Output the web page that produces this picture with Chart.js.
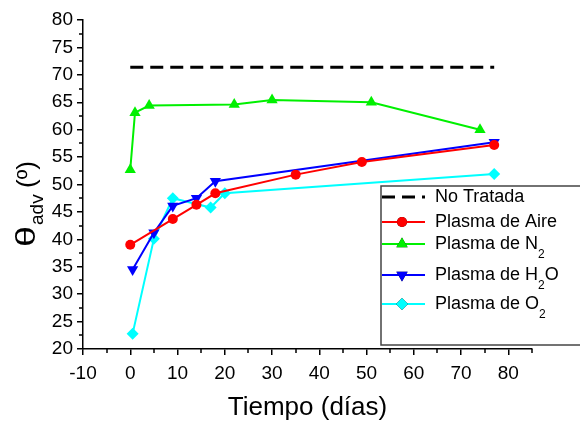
<!DOCTYPE html>
<html>
<head>
<meta charset="utf-8">
<script src="https://cdn.jsdelivr.net/npm/chart.js@4"></script>
<style>
html, body { margin: 0; padding: 0; background: #fff; }
#wrap { width: 580px; height: 421px; }
</style>
</head>
<body>
<div id="wrap"><canvas id="chart" width="580" height="421"></canvas></div>
<script>
// datos
const noTratadaX = [0, 77];
const noTratadaY = [71.4, 71.4];

const aireX = [0, 9, 14, 18, 35, 49, 77];
const aireY = [39.0, 43.7, 46.3, 48.4, 51.8, 54.1, 57.2];

const n2X = [0, 1, 4, 22, 30, 51, 74];
const n2Y = [52.7, 63.1, 64.4, 64.6, 65.4, 65.0, 60.0];

const h2oX = [0.5, 5, 9, 14, 18, 77];
const h2oY = [34.5, 41.2, 46.1, 47.5, 50.6, 57.7];

const o2X = [0.5, 5, 9, 17, 20, 77];
const o2Y = [22.8, 40.1, 47.5, 45.8, 48.4, 51.9];

const labels = ["No Tratada", "Plasma de Aire", "Plasma de N\u2082", "Plasma de H\u2082O", "Plasma de O\u2082"];
// partes del texto de la leyenda: [normal, subindice, normal, ...]
const legendParts = [["No Tratada"], ["Plasma de Aire"], ["Plasma de N", "2"], ["Plasma de H", "2", "O"], ["Plasma de O", "2"]];

const xMin = -10, xMax = 85, xStep = 10;
const yMin = 20, yMax = 80, yStep = 5;

const FONT = "'Liberation Sans', Arial, sans-serif";

function pts(xs, ys){
  return xs.map((x, i) => ({x: x, y: ys[i]}));
}

function serie(label, xs, ys, color, style, radius, rotation){
  return {
    label: label,
    data: pts(xs, ys),
    borderColor: color,
    backgroundColor: color,
    borderWidth: 2,
    pointStyle: style,
    pointRadius: radius,
    pointRotation: rotation || 0,
    pointBorderWidth: 0,
    tension: 0
  };
}

const datasets = [
  {
    label: labels[0],
    data: pts(noTratadaX, noTratadaY),
    borderColor: "#000",
    borderWidth: 3,
    borderDash: [13, 7],
    pointRadius: 0
  },
  serie(labels[1], aireX, aireY, "#ff0000", "circle", 5),
  serie(labels[2], n2X, n2Y, "#00f000", "triangle", 6.5),
  serie(labels[3], h2oX, h2oY, "#0000ff", "triangle", 6.5, 180),
  serie(labels[4], o2X, o2Y, "#00ffff", "rectRot", 6)
];

/* =========================
   titulos, ticks menores y leyenda
========================= */

const extras = {
  id: "extras",
  afterDraw(chart){
    const ctx = chart.ctx;
    const xs = chart.scales.x, ys = chart.scales.y;
    const area = chart.chartArea;

    ctx.save();
    ctx.strokeStyle = "#000";
    ctx.lineWidth = 1.5;

    // ticks menores
    for(let v = xMin + xStep / 2; v <= xMax; v += xStep){
      const px = Math.round(xs.getPixelForValue(v));
      ctx.beginPath(); ctx.moveTo(px, area.bottom); ctx.lineTo(px, area.bottom + 4); ctx.stroke();
    }
    for(let v = yMin + yStep / 2; v < yMax; v += yStep){
      const py = Math.round(ys.getPixelForValue(v));
      ctx.beginPath(); ctx.moveTo(area.left, py); ctx.lineTo(area.left - 4, py); ctx.stroke();
    }

    // titulo eje x
    ctx.fillStyle = "#000";
    ctx.font = "26px " + FONT;
    ctx.textAlign = "center";
    ctx.textBaseline = "alphabetic";
    ctx.fillText("Tiempo (días)", (area.left + area.right) / 2, 415);

    // titulo eje y (theta con subindice)
    ctx.save();
    ctx.translate(35, 247);
    ctx.rotate(-Math.PI / 2);
    ctx.textAlign = "left";
    ctx.font = "27px " + FONT;
    const tw = ctx.measureText("\u03b8").width;
    ctx.save();
    ctx.scale(21 / tw, 1);
    ctx.fillText("\u03b8", 0, 0);
    ctx.restore();
    ctx.font = "19px " + FONT;
    ctx.fillText("adv", 22, 8);
    ctx.font = "26px " + FONT;
    ctx.fillText("(\u00ba)", 59, 0);
    ctx.restore();

    // leyenda
    const boxL = 381, boxT = 186, boxB = 345;
    ctx.fillStyle = "#fff";
    ctx.fillRect(boxL, boxT, 600 - boxL, boxB - boxT);
    ctx.strokeStyle = "#444";
    ctx.lineWidth = 1.5;
    ctx.strokeRect(boxL, boxT, 620 - boxL, boxB - boxT);

    const rowsY = [197, 222, 244, 275, 304];
    chart.data.datasets.forEach((ds, i) => {
      const y = rowsY[i];
      ctx.save();
      ctx.strokeStyle = ds.borderColor;
      ctx.lineWidth = ds.borderWidth;
      if(ds.borderDash) ctx.setLineDash(ds.borderDash);
      ctx.beginPath(); ctx.moveTo(382, y); ctx.lineTo(425, y); ctx.stroke();
      ctx.restore();
      if(ds.pointRadius > 0){
        Chart.helpers.drawPoint(ctx, {
          pointStyle: ds.pointStyle,
          radius: ds.pointRadius,
          rotation: ds.pointRotation,
          borderWidth: 0
        }, 402, y);
        ctx.fillStyle = ds.backgroundColor;
        ctx.fill();
      }
      ctx.fillStyle = "#000";
      ctx.textAlign = "left";
      ctx.textBaseline = "middle";
      let tx = 435;
      legendParts[i].forEach((part, k) => {
        if(k % 2 === 1){
          ctx.font = "12px " + FONT;
          ctx.fillText(part, tx, y + 11);
        } else {
          ctx.font = "18px " + FONT;
          ctx.fillText(part, tx, y);
        }
        tx += ctx.measureText(part).width;
      });
    });

    ctx.restore();
  }
};

const tickFont = { family: FONT, size: 19 };

new Chart(document.getElementById("chart"), {
  type: "line",
  data: { datasets: datasets },
  options: {
    responsive: false,
    animation: false,
    layout: { padding: { left: 0, right: 48, top: 20, bottom: 0 } },
    plugins: { legend: { display: false }, tooltip: { enabled: false } },
    scales: {
      x: {
        type: "linear",
        min: xMin, max: xMax,
        ticks: { stepSize: xStep, includeBounds: false, color: "#000", font: tickFont, padding: 7, maxRotation: 0 },
        grid: { drawOnChartArea: false, drawTicks: true, tickLength: 6, color: "#000", lineWidth: 1.5 },
        border: { color: "#000", width: 1.5 },
        afterFit(scale){ scale.height = 72; }
      },
      y: {
        type: "linear",
        min: yMin, max: yMax,
        ticks: { stepSize: yStep, includeBounds: false, color: "#000", font: tickFont, padding: 4 },
        grid: { drawOnChartArea: false, drawTicks: true, tickLength: 6, color: "#000", lineWidth: 1.5 },
        border: { color: "#000", width: 1.5 },
        afterFit(scale){ scale.width = 83; }
      }
    }
  },
  plugins: [extras]
});
</script>
</body>
</html>
